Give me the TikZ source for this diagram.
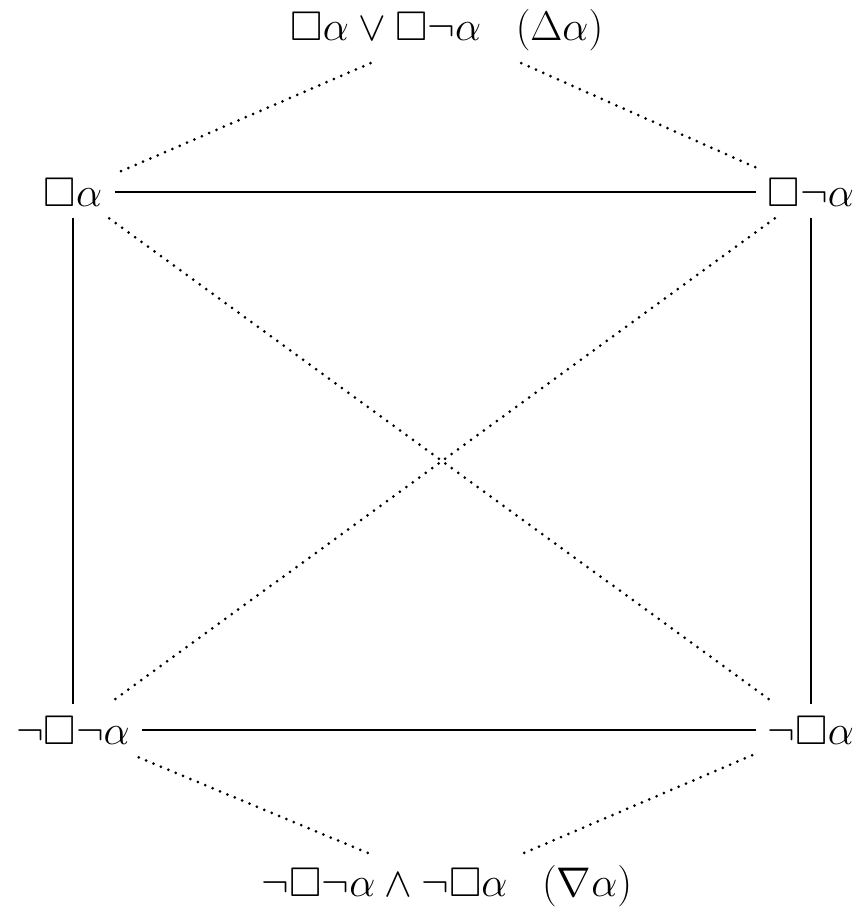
\documentclass[tikz,border=0pt]{standalone}
\usepackage{amssymb}
\usetikzlibrary{calc}

\begin{document}
\begin{tikzpicture}[x=0.5pt, y=-0.5pt,
    every node/.style={font=\huge, inner sep=6pt},
    solidline/.style={line width=0.75pt},
    dotline/.style={line width=1.5pt, line cap=round, dash pattern=on 0pt off 4pt}]

% --- Define variables with \def ---
\def\leftX{73}
\def\rightX{811}
\def\midX{447}
\def\upperY{192}
\def\lowerY{730}

\useasboundingbox (0,0) rectangle (860,918);

% --- The square of modal formulas ---
\node (boxa)   at (\leftX,  \upperY) {$\Box\alpha$};
\node (boxna)  at (\rightX, \upperY) {$\Box\neg\alpha$};
\node (nboxna) at (\leftX,  \lowerY) {$\neg\Box\neg\alpha$};
\node (nboxa)  at (\rightX, \lowerY) {$\neg\Box\alpha$};

% --- Top and bottom formulas ---
\node (top)    at (\midX, 30)  {$\Box\alpha \lor \Box\neg\alpha\;\;\;(\Delta\alpha)$};
\node (bottom) at (\midX, 886) {$\neg\Box\neg\alpha \land \neg\Box\alpha\;\;\;(\nabla\alpha)$};

% --- Solid sides ---
\draw[solidline] (boxa) -- (boxna);
\draw[solidline] (nboxna) -- (nboxa);
\draw[solidline] (boxa) -- (nboxna);
\draw[solidline] (boxna) -- (nboxa);

% --- Dotted diagonals and links ---
\draw[dotline] (boxa) -- (nboxa);
\draw[dotline] (boxna) -- (nboxna);
\draw[dotline] (top) -- (boxa);
\draw[dotline] (top) -- (boxna);
\draw[dotline] (bottom) -- (nboxna);
\draw[dotline] (bottom) -- (nboxa);

\end{tikzpicture}
\end{document}
